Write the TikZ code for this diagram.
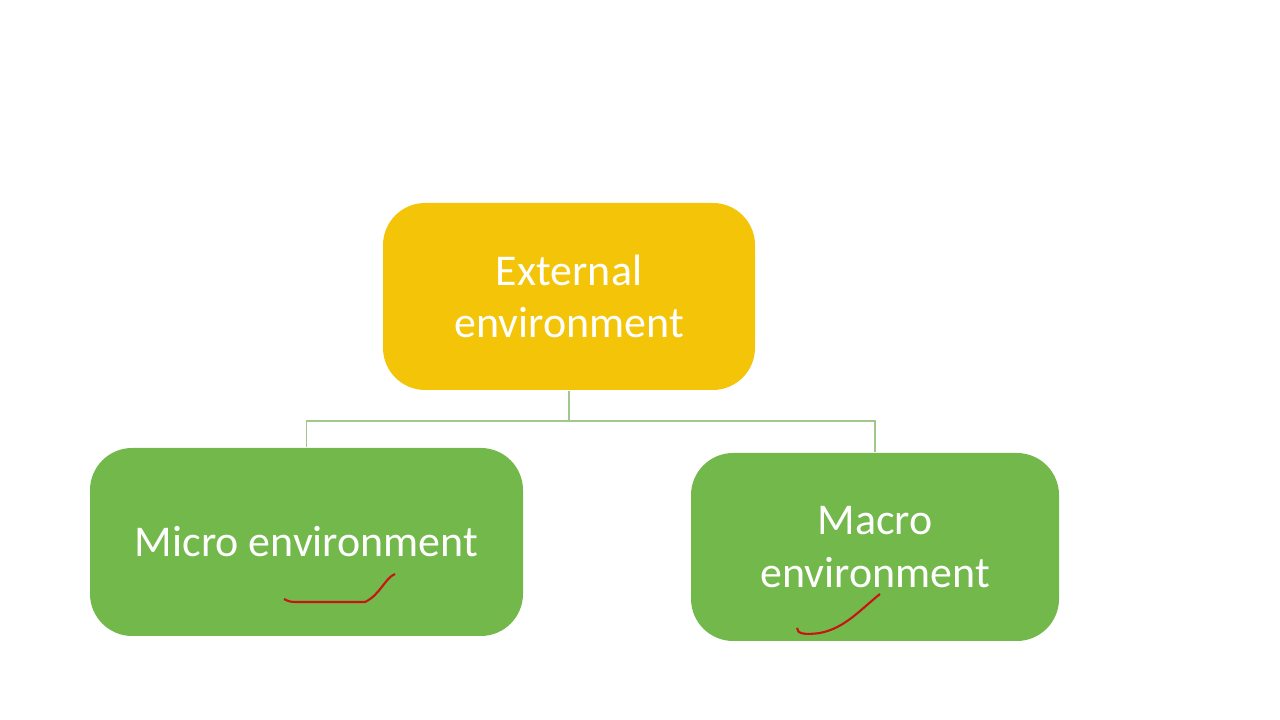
\documentclass[tikz,border=0pt]{standalone}
\usepackage{fontspec}
\setmainfont{Carlito}
\definecolor{boxyellow}{RGB}{243,196,8}
\definecolor{boxgreen}{RGB}{114,184,75}
\definecolor{linkgreen}{RGB}{160,200,140}
\definecolor{inkred}{RGB}{200,20,20}
\tikzset{
  box/.style={rounded corners=12pt, align=center, text=white, inner sep=0pt,
    font=\fontsize{12.5}{15}\selectfont},
  link/.style={draw=linkgreen, line width=0.5pt},
  scribble/.style={draw=inkred, line width=0.6pt}
}
\begin{document}
\begin{tikzpicture}
  \useasboundingbox (0,0) rectangle (12.8,7.2);
  \node[box, fill=boxyellow, minimum width=3.72cm, minimum height=1.87cm]
    (ext) at (5.69,4.235) {External\\environment};
  \node[box, fill=boxgreen, minimum width=4.33cm, minimum height=1.88cm]
    (micro) at (3.065,1.78) {Micro environment};
  \node[box, fill=boxgreen, minimum width=3.68cm, minimum height=1.88cm]
    (macro) at (8.75,1.73) {Macro\\environment};
  \coordinate (fork) at (5.69,2.99);
  \draw[link] (ext.south) -- (fork);
  \draw[link] (fork) -| (micro.north);
  \draw[link] (fork) -| (macro.north);
  % hand-drawn marks
  \draw[scribble] (2.84,1.21) .. controls (2.9,1.18) .. (3.0,1.18)
    -- (3.65,1.18) .. controls (3.8,1.25) and (3.85,1.42) .. (3.95,1.46);
  \draw[scribble] (8.80,1.26) .. controls (8.6,1.1) and (8.45,0.92) .. (8.2,0.87)
    .. controls (8.05,0.85) and (7.97,0.86) .. (7.97,0.92);
\end{tikzpicture}
\end{document}
